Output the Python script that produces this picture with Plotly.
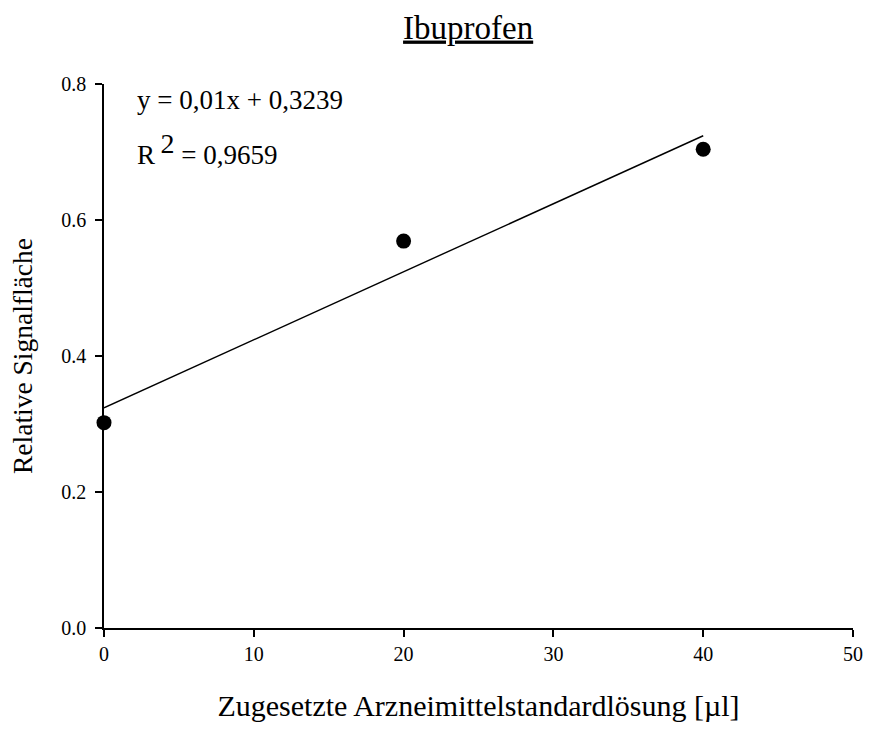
import plotly.graph_objects as go

# Measured data: added drug standard solution vs. relative signal area
added_volume_ul = [0, 20, 40]
relative_area = [0.302, 0.569, 0.704]

# Linear regression reported for the series
slope = 0.01
intercept = 0.3239
r_squared = 0.9659
fit_x = [0, 40]
fit_y = [slope * x + intercept for x in fit_x]

x_ticks = [0, 10, 20, 30, 40, 50]
y_ticks = [0.0, 0.2, 0.4, 0.6, 0.8]

FONT = "Liberation Serif, Times New Roman, serif"

fig = go.Figure()

fig.add_trace(go.Scatter(
    x=fit_x, y=fit_y, mode="lines",
    line=dict(color="black", width=1.4),
    cliponaxis=False, showlegend=False, hoverinfo="skip",
))

fig.add_trace(go.Scatter(
    x=added_volume_ul, y=relative_area, mode="markers",
    marker=dict(color="black", size=15, symbol="circle"),
    cliponaxis=False, showlegend=False,
))

eq_text = f"y = {slope:.2f}x + {intercept:.4f}".replace(".", ",")
r2_text = ("R\u2009<sup><span style='font-size:28px'>2</span></sup> = "
           + f"{r_squared:.4f}".replace(".", ","))

fig.add_annotation(
    x=2.1, y=0.777, xref="x", yref="y", text=eq_text,
    showarrow=False, xanchor="left", yanchor="middle",
    font=dict(family=FONT, size=27, color="black"),
)
fig.add_annotation(
    x=2.1, y=0.705, xref="x", yref="y", text=r2_text,
    showarrow=False, xanchor="left", yanchor="middle",
    font=dict(family=FONT, size=27, color="black"),
)

axis_common = dict(
    showline=True, linecolor="black", linewidth=1.5,
    ticks="outside", ticklen=7, tickwidth=1.5, tickcolor="black",
    showgrid=False, zeroline=False, mirror=False,
    tickfont=dict(family=FONT, size=20, color="black"),
)

fig.update_layout(
    width=875, height=729,
    margin=dict(l=104, r=13, t=84, b=100),
    paper_bgcolor="white", plot_bgcolor="white",
    font=dict(family=FONT, color="black"),
    title=dict(
        text="<u>Ibuprofen</u>",
        font=dict(family=FONT, size=33, color="black"),
        x=0.535, xanchor="center",
        yref="container", y=1 - 27 / 729, yanchor="middle",
    ),
    xaxis=dict(
        range=[0, 50], tickvals=x_ticks,
        title=dict(text="Zugesetzte Arzneimittelstandardlösung [µl]",
                   font=dict(family=FONT, size=30, color="black"),
                   standoff=31),
        **axis_common,
    ),
    yaxis=dict(
        range=[0, 0.8], tickvals=y_ticks, tickformat=".1f",
        ticklabelstandoff=5,
        title=dict(text="Relative Signalfläche",
                   font=dict(family=FONT, size=27.5, color="black"),
                   standoff=21),
        **axis_common,
    ),
)

fig.write_html("out.html")
